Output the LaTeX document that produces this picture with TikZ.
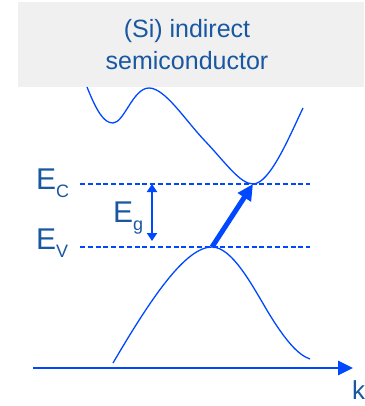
\documentclass[tikz,border=0pt]{standalone}
\usepackage{fontspec}
\setmainfont{Liberation Sans}
\usetikzlibrary{arrows.meta,positioning,calc}

\definecolor{bandblue}{RGB}{0,72,255}
\definecolor{txtblue}{RGB}{25,88,160}
\definecolor{boxgrey}{RGB}{240,240,240}

% level label with a lowered index
\newcommand{\lvlname}[2]{E\raisebox{-8pt}{\fontsize{18}{18}\selectfont #2}}

\begin{document}
\begin{tikzpicture}[
  x=1pt, y=-1pt,
  title/.style={font=\fontsize{25}{32}\selectfont, text=txtblue, align=center, inner sep=0pt},
  lab/.style={font=\fontsize{30}{30}\selectfont, text=txtblue, inner sep=0pt, anchor=base west},
  band/.style={draw=bandblue, line width=1.3pt},
  lvl/.style={draw=bandblue, line width=1.4pt, dash pattern=on 5pt off 2.8pt},
  arr/.style={-{Triangle[length=15pt, width=14pt]}, draw=bandblue, line width=2.6pt},
  gap/.style={{Triangle[length=8pt, width=10pt]}-{Triangle[length=8pt, width=10pt]}, draw=bandblue, line width=1.8pt},
  hop/.style={-{Triangle[length=16pt, width=15pt]}, draw=bandblue, line width=5pt}
]
\useasboundingbox (0,0) rectangle (364,406);

% ================= header =================
\fill[boxgrey] (18,2) rectangle (364,87);
\node[title] (ttl) at (187,45) {(Si) indirect\\semiconductor};

% ================= bands =================
\coordinate (cbmin) at (253,184);
\coordinate (vbmax) at (212,247);

\draw[band] (87,87) .. controls (97,112) and (104,123) .. (113,123)
  .. controls (124,123) and (133,88) .. (149,88)
  .. controls (165,88) and (185,120) .. (205,141)
  .. controls (225,162) and (240,184) .. (cbmin)
  .. controls (270,184) and (290,135) .. (303,108);

\draw[band] (113,363) .. controls (150,300) and (185,247) .. (vbmax)
  .. controls (232,247) and (252,285) .. (268,312)
  .. controls (285,340) and (298,355) .. (310,359);

% ================= levels =================
\node[lab] (ec) at (36,189) {\lvlname{E}{C}};
\node[lab] (ev) at (36,249) {\lvlname{E}{V}};
\node[lab] (eg) at (113,222) {\lvlname{E}{g}};

\coordinate (ecl) at (80,184);
\coordinate (ecr) at (310,184);
\coordinate (evl) at (80,247);
\coordinate (evr) at (310,247);
\draw[lvl] (ecl) -- (ecr);
\draw[lvl] (evl) -- (evr);

\coordinate (gtop) at (152,184);
\coordinate (gbot) at (152,241);
\draw[gap] (gtop) -- (gbot);

\draw[hop] (vbmax) -- (cbmin);

% ================= axis =================
\coordinate (k0) at (33,368);
\coordinate (k1) at (353,368);
\node[lab, font=\fontsize{26}{26}\selectfont] (k) at (352,399) {k};
\draw[arr] (k0) -- (k1);

\end{tikzpicture}
\end{document}
